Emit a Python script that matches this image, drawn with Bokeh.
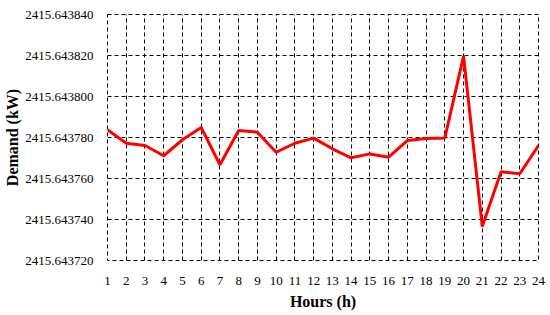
from bokeh.plotting import figure
from bokeh.models import FixedTicker, PrintfTickFormatter, Range1d
from bokeh.embed import file_html
from bokeh.resources import INLINE

hours = list(range(1, 25))
demand = [2415.6437838, 2415.6437772, 2415.6437761, 2415.6437711, 2415.6437789,
          2415.6437849, 2415.6437667, 2415.6437834, 2415.6437826, 2415.6437728,
          2415.6437772, 2415.6437797, 2415.6437745, 2415.6437701, 2415.6437720,
          2415.6437704, 2415.6437785, 2415.6437795, 2415.6437797, 2415.6438197,
          2415.6437366, 2415.6437633, 2415.6437623, 2415.6437761]
y_ticks = [2415.643720, 2415.643740, 2415.643760, 2415.643780,
           2415.643800, 2415.643820, 2415.643840]

FONT = "Liberation Serif"

p = figure(width=550, height=315, output_backend="svg", toolbar_location=None,
           x_range=Range1d(1, 24), y_range=Range1d(y_ticks[0], y_ticks[-1]),
           min_border_left=107, min_border_right=12, min_border_top=14, min_border_bottom=55)
p.outline_line_color = "black"
p.outline_line_dash = "4 3"
p.outline_line_width = 1
p.background_fill_color = "white"

p.line(hours, demand, line_color="#ff0000", line_width=3)

for ax in (p.xaxis[0], p.yaxis[0]):
    ax.axis_line_color = None
    ax.major_tick_line_color = None
    ax.minor_tick_line_color = None
    ax.major_tick_out = 0
    ax.major_tick_in = 0
    ax.major_label_text_font = FONT
    ax.major_label_text_font_size = "13px"
    ax.major_label_text_color = "black"
    ax.axis_label_text_font = FONT
    ax.axis_label_text_font_style = "bold"
    ax.axis_label_text_font_size = "16px"
    ax.axis_label_text_color = "black"

p.xaxis.ticker = FixedTicker(ticks=hours)
p.yaxis.ticker = FixedTicker(ticks=y_ticks)
p.yaxis.formatter = PrintfTickFormatter(format="%.6f")
p.xaxis.axis_label = "Hours (h)"
p.yaxis.axis_label = "Demand (kW)"
p.xaxis.major_label_standoff = 16
p.yaxis.major_label_standoff = 14
p.xaxis.axis_label_standoff = 5
p.yaxis.axis_label_standoff = 1

for g in (p.xgrid[0], p.ygrid[0]):
    g.grid_line_color = "black"
    g.grid_line_dash = "4 3"
    g.grid_line_width = 1
    g.grid_line_alpha = 1.0
p.xgrid.ticker = FixedTicker(ticks=hours)
p.ygrid.ticker = FixedTicker(ticks=y_ticks)

open("out.html", "w").write(file_html(p, INLINE))
